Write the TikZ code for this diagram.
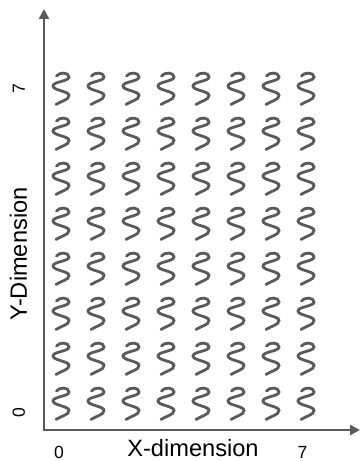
\documentclass[tikz,border=0pt]{standalone}
\usepackage{fontspec}
\setmainfont{Liberation Sans}
\usetikzlibrary{arrows.meta,positioning}
\definecolor{axisgray}{RGB}{90,90,90}

\begin{document}
\begin{tikzpicture}[
      x=0.025cm, y=0.025cm,
      axisline/.style={draw=axisgray,line width=2.1pt,{Triangle[length=7pt,width=7pt]}-{Triangle[length=7pt,width=7pt]}},
      waveline/.style={draw=axisgray,line width=2pt,line cap=round},
      ticklab/.style={font=\fontsize{12.5}{15}\selectfont,anchor=base},
      dimlab/.style={font=\fontsize{16.8}{20}\selectfont,anchor=base}
    ]
        \useasboundingbox (0,0) rectangle (361,461);
        \coordinate (o) at (44,31);
        \coordinate (xend) at (360,31);
        \coordinate (yend) at (44,452);
        % 8 x 8 grid of wavy strands
        \foreach \i in {0,...,7}
          \foreach \j in {0,...,7}
            \draw[waveline,shift={(61+35*\i,57+45*\j)}]
              (-4.5,13) .. controls (-2,17) and (8,17) .. (8,12)
              .. controls (8,7.5) and (-8,7.5) .. (-8,3)
              .. controls (-8,-1.5) and (8,-2) .. (8,-6.5)
              .. controls (8,-11) and (0,-12) .. (-5,-15.5);
        \path[axisline] (yend) -- (o) -- (xend);
        % tick values and axis titles
        \node[ticklab] (x0) at (59,3) {0};
        \node[ticklab] (x7) at (302.5,3) {7};
        \node[dimlab] (xlab) at (193,4) {X-dimension};
        \node[ticklab,rotate=90] (y0) at (25,48) {0};
        \node[ticklab,rotate=90] (y7) at (25,372) {7};
        \node[dimlab,rotate=90] (ylab) at (27,207) {Y-Dimension};
    \end{tikzpicture}
\end{document}
